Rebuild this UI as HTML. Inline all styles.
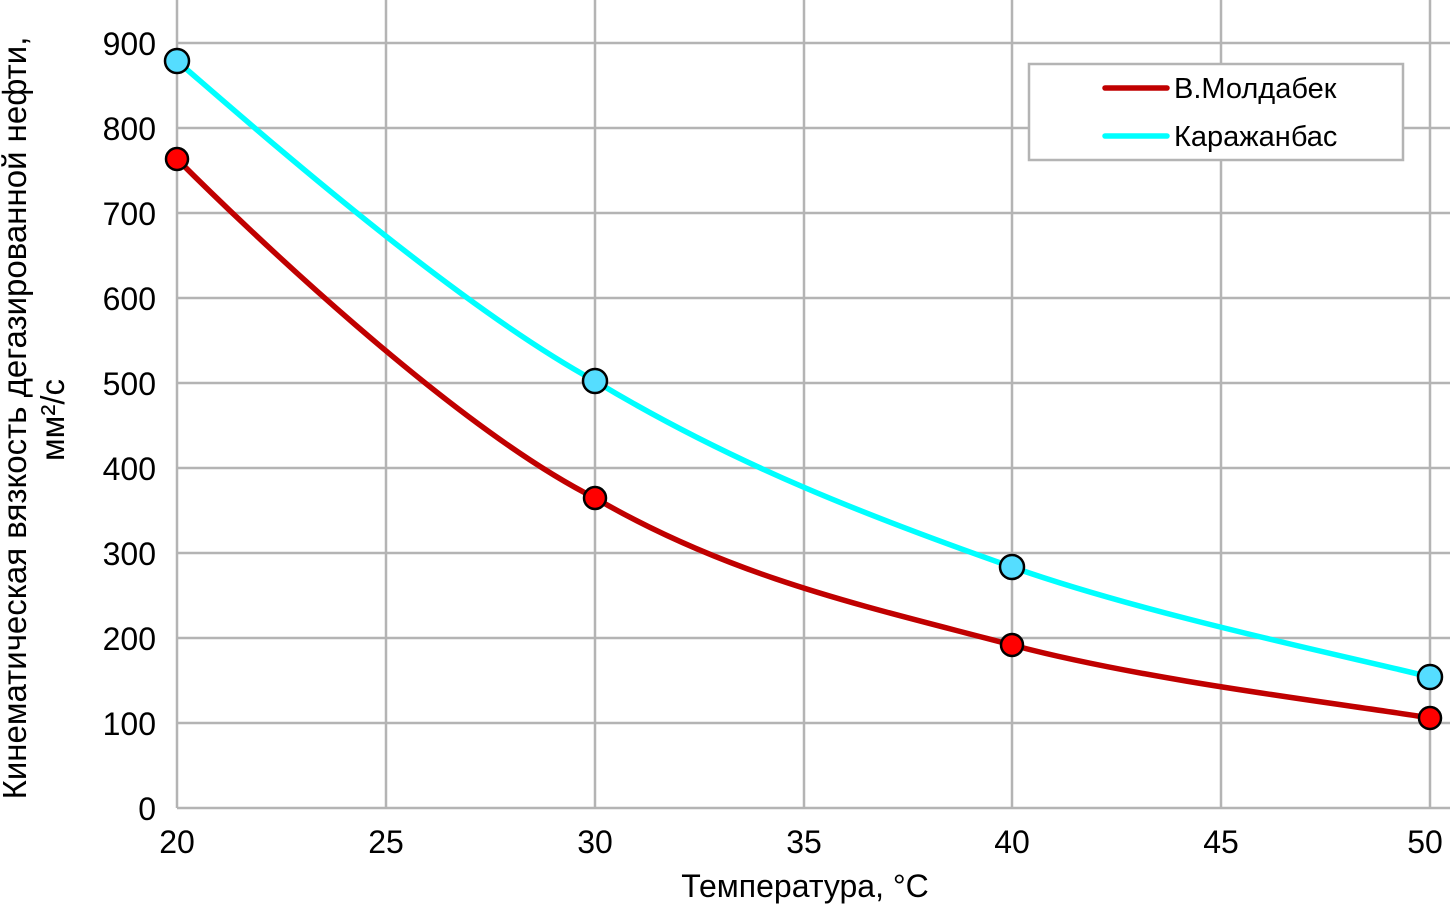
<!DOCTYPE html>
<html><head><meta charset="utf-8"><style>
body{margin:0;background:#fff}
svg{display:block;font-family:"Liberation Sans",Arial,sans-serif}
</style></head><body>
<svg width="1450" height="904" viewBox="0 0 1450 904">
<g stroke="#b4b4b4" stroke-width="2.5">
<line x1="177" y1="0" x2="177" y2="808"/><line x1="386" y1="0" x2="386" y2="808"/>
<line x1="595" y1="0" x2="595" y2="808"/><line x1="804" y1="0" x2="804" y2="808"/>
<line x1="1012" y1="0" x2="1012" y2="808"/><line x1="1221" y1="0" x2="1221" y2="808"/>
<line x1="1430" y1="0" x2="1430" y2="808"/>
<line x1="177" y1="43" x2="1450" y2="43"/><line x1="177" y1="128" x2="1450" y2="128"/>
<line x1="177" y1="213" x2="1450" y2="213"/><line x1="177" y1="298" x2="1450" y2="298"/>
<line x1="177" y1="383" x2="1450" y2="383"/><line x1="177" y1="468" x2="1450" y2="468"/>
<line x1="177" y1="553" x2="1450" y2="553"/><line x1="177" y1="638" x2="1450" y2="638"/>
<line x1="177" y1="723" x2="1450" y2="723"/><line x1="177" y1="808" x2="1450" y2="808"/>
</g>
<g font-size="32" fill="#000" text-anchor="end">
<text x="156" y="55">900</text><text x="156" y="140">800</text><text x="156" y="225">700</text>
<text x="156" y="310">600</text><text x="156" y="395">500</text><text x="156" y="480">400</text>
<text x="156" y="565">300</text><text x="156" y="650">200</text><text x="156" y="735">100</text>
<text x="156" y="820">0</text>
</g>
<g font-size="32" fill="#000" text-anchor="middle">
<text x="177" y="853">20</text><text x="386" y="853">25</text><text x="595" y="853">30</text>
<text x="804" y="853">35</text><text x="1012" y="853">40</text><text x="1221" y="853">45</text>
<text x="1425" y="853">50</text>
<text x="805" y="897">Температура, °C</text>
</g>
<g font-size="33" fill="#000" text-anchor="middle">
<text transform="translate(26,418) rotate(-90)">Кинематическая вязкость дегазированной нефти,</text>
<text transform="translate(64,420) rotate(-90)">мм²/с</text>
</g>
<path d="M177,159 C240,222 450,425 595,498 C734,579 873,608 1012,645 C1151,682 1360,706 1430,718" fill="none" stroke="#c00000" stroke-width="5.5"/>
<path d="M177,61 C240,115 450,302 595,381 C734,465 873,518 1012,567 C1151,616 1360,659 1430,677" fill="none" stroke="#00ffff" stroke-width="5.5"/>
<g stroke="#000" stroke-width="2.5">
<circle cx="177" cy="159" r="11" fill="#ff0000"/><circle cx="595" cy="498" r="11" fill="#ff0000"/>
<circle cx="1012" cy="645" r="11" fill="#ff0000"/><circle cx="1430" cy="718" r="11" fill="#ff0000"/>
<circle cx="177" cy="61" r="12" fill="#55ddff"/><circle cx="595" cy="381" r="12" fill="#55ddff"/>
<circle cx="1012" cy="567" r="12" fill="#55ddff"/><circle cx="1430" cy="677" r="12" fill="#55ddff"/>
</g>
<rect x="1029" y="64" width="374" height="96" fill="#fff" stroke="#b4b4b4" stroke-width="2.5"/>
<line x1="1105" y1="88" x2="1167" y2="88" stroke="#c00000" stroke-width="5.5" stroke-linecap="round"/>
<line x1="1105" y1="136" x2="1167" y2="136" stroke="#00ffff" stroke-width="5.5" stroke-linecap="round"/>
<g font-size="29" fill="#000">
<text x="1174" y="98">В.Молдабек</text>
<text x="1174" y="146">Каражанбас</text>
</g>
</svg>
</body></html>
